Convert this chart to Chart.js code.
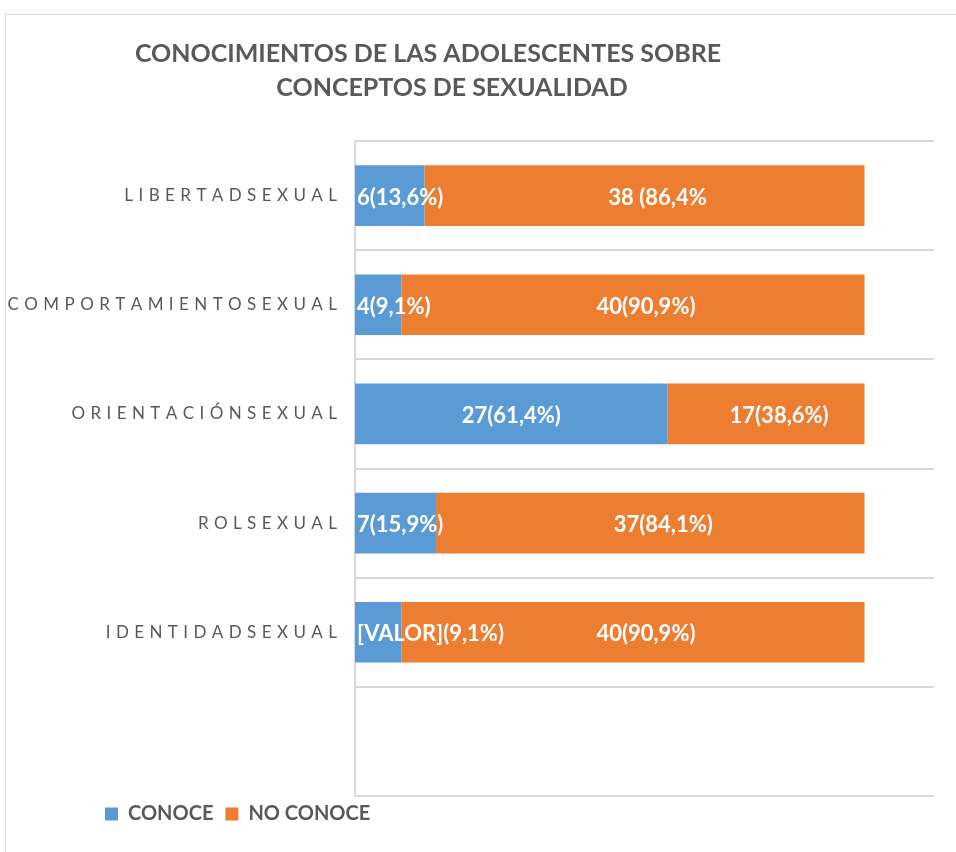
<!DOCTYPE html>
<html>
<head>
<meta charset="utf-8">
<script src="https://cdn.jsdelivr.net/npm/chart.js@4/dist/chart.umd.min.js"></script>
<style>
  html, body { margin: 0; padding: 0; background: #fff; }
  #frame { position: absolute; left: 5px; top: 14px; width: 1000px; height: 900px; border: 1px solid #d9d9d9; }
  #wrap { position: absolute; left: 0; top: 0; width: 956px; height: 852px; }
</style>
</head>
<body>
<div id="frame"></div>
<div id="wrap"><canvas id="chart" width="956" height="852"></canvas></div>
<script>
// categories top to bottom; last slot is empty in the original
const categories = ['LIBERTADSEXUAL', 'COMPORTAMIENTOSEXUAL', 'ORIENTACIÓNSEXUAL', 'ROLSEXUAL', 'IDENTIDADSEXUAL', ''];
const conoce = [6, 4, 27, 7, 4, null];
const noConoce = [38, 40, 17, 37, 40, null];
const conoceText = ['6(13,6%)', '4(9,1%)', '27(61,4%)', '7(15,9%)', '[VALOR](9,1%)', ''];
const noConoceText = ['38 (86,4%', '40(90,9%)', '17(38,6%)', '37(84,1%)', '40(90,9%)', ''];
const titleLines = ['CONOCIMIENTOS DE LAS ADOLESCENTES SOBRE', 'CONCEPTOS DE SEXUALIDAD'];
const xMax = 50;

const GRAY = '#595959';
const LINE = '#d9d9d9';

// white value text on each segment, clamped to the plot's left edge
const barText = {
  id: 'barText',
  afterDatasetsDraw(chart, args, opts) {
    const ctx = chart.ctx;
    const left = chart.chartArea.left;
    ctx.save();
    ctx.font = opts.font;
    ctx.fillStyle = '#fff';
    ctx.textBaseline = 'middle';
    ctx.textAlign = 'left';
    chart.data.datasets.forEach((ds, di) => {
      const meta = chart.getDatasetMeta(di);
      const nudge = (opts.nudge || [])[di] || 0;
      meta.data.forEach((bar, i) => {
        const txt = ds.texts[i];
        if (!txt || ds.data[i] == null) return;
        const w = ctx.measureText(txt).width;
        const mid = (bar.x + bar.base) / 2 + nudge;
        const x0 = Math.max(left + 2, mid - w / 2);
        ctx.fillText(txt, x0, bar.y + 2);
      });
    });
    ctx.restore();
  }
};

// two-line title, each line centred on its own x like the source
const titleText = {
  id: 'titleText',
  afterDraw(chart, args, opts) {
    const ctx = chart.ctx;
    ctx.save();
    ctx.font = opts.font;
    ctx.fillStyle = GRAY;
    ctx.textAlign = 'center';
    ctx.textBaseline = 'middle';
    opts.lines.forEach((t, i) => ctx.fillText(t, opts.centers[i], opts.ys[i]));
    ctx.restore();
  }
};

// legend sits further right than the category labels, and a bit higher
const legendShift = {
  id: 'legendShift',
  afterLayout(chart, args, opts) {
    if (!chart.legend) return;
    chart.legend.left = opts.left;
    chart.legend.top += opts.dy;
  }
};

const ctx = document.getElementById('chart').getContext('2d');
new Chart(ctx, {
  type: 'bar',
  data: {
    labels: categories,
    datasets: [
      { label: 'CONOCE', data: conoce, texts: conoceText, backgroundColor: '#5b9bd5' },
      { label: 'NO CONOCE', data: noConoce, texts: noConoceText, backgroundColor: '#ed7d31' }
    ]
  },
  options: {
    indexAxis: 'y',
    responsive: false,
    animation: false,
    categoryPercentage: 1,
    barPercentage: 0.555,
    layout: { padding: { top: 141, right: 22, bottom: 14, left: 5 } },
    scales: {
      x: { display: false, stacked: true, min: 0, max: xMax },
      y: {
        stacked: true,
        grid: { color: LINE, lineWidth: 2, drawTicks: false, offset: true },
        border: { display: true, color: LINE, width: 2 },
        ticks: {
          color: GRAY,
          padding: 18,
          font: { family: 'Lato', size: 17 },
          // the source spreads the letters out
          callback(v) { return this.getLabelForValue(v).split('').join(' \u200A'); }
        },
        afterFit(scale) { scale.width = 350; }
      }
    },
    plugins: {
      legend: {
        position: 'bottom',
        align: 'start',
        labels: {
          boxWidth: 13,
          boxHeight: 13,
          padding: 12,
          color: GRAY,
          font: { family: 'Lato', size: 20, weight: 'bold' }
        }
      },
      legendShift: { left: 93, dy: -4 },
      tooltip: { enabled: false },
      barText: { font: 'bold 22px Lato', nudge: [0, 13] },
      titleText: {
        font: 'bold 25px Lato',
        lines: titleLines,
        centers: [428, 452],
        ys: [54, 88]
      }
    }
  },
  plugins: [barText, titleText, legendShift]
});
</script>
</body>
</html>
